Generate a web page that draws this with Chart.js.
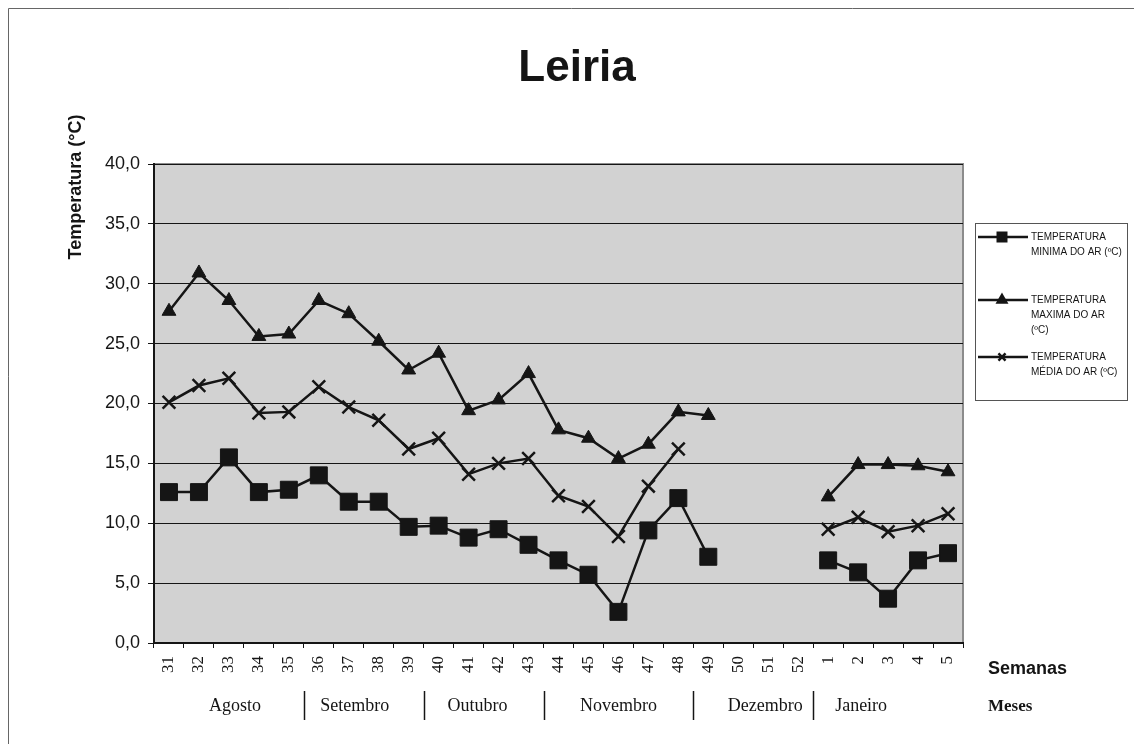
<!DOCTYPE html>
<html>
<head>
<meta charset="utf-8">
<title>Leiria</title>
<script src="https://cdn.jsdelivr.net/npm/chart.js@4.4.1/dist/chart.umd.min.js"></script>
<style>
  html, body { margin: 0; padding: 0; background: #fff; }
  #wrap { position: relative; width: 1134px; height: 744px; }
</style>
</head>
<body>
<div id="wrap"><canvas id="chart" width="1134" height="744"></canvas></div>
<script>
// week numbers (Semanas) on the x axis
const weeks = ['31', '32', '33', '34', '35', '36', '37', '38', '39', '40', '41', '42', '43',
  '44', '45', '46', '47', '48', '49', '50', '51', '52', '1', '2', '3', '4', '5'];

// values, null = no reading
const tempMin = [12.6, 12.6, 15.5, 12.6, 12.8, 14.0, 11.8, 11.8, 9.7, 9.8, 8.8, 9.5, 8.2,
  6.9, 5.7, 2.6, 9.4, 12.1, 7.2, null, null, null, 6.9, 5.9, 3.7, 6.9, 7.5];
const tempMax = [27.7, 30.9, 28.6, 25.6, 25.8, 28.6, 27.5, 25.2, 22.8, 24.2, 19.4, 20.3, 22.5,
  17.8, 17.1, 15.4, 16.6, 19.3, 19.0, null, null, null, 12.2, 14.9, 14.9, 14.8, 14.3];
const tempMean = [20.1, 21.5, 22.1, 19.2, 19.3, 21.4, 19.7, 18.6, 16.2, 17.1, 14.1, 15.0, 15.4,
  12.3, 11.4, 8.9, 13.1, 16.2, null, null, null, null, 9.5, 10.5, 9.3, 9.8, 10.8];

const seriesNames = ['TEMPERATURA MINIMA DO AR (ºC)', 'TEMPERATURA MAXIMA DO AR (ºC)', 'TEMPERATURA MÉDIA DO AR (ºC)'];
const legendLines = [
  ['TEMPERATURA', 'MINIMA DO AR (ºC)'],
  ['TEMPERATURA', 'MAXIMA DO AR', '(ºC)'],
  ['TEMPERATURA', 'MÉDIA DO AR (ºC)'],
];

// months (Meses) and the week index where each one starts
const months = ['Agosto', 'Setembro', 'Outubro', 'Novembro', 'Dezembro', 'Janeiro'];
const monthStart = [0, 5, 9, 13, 18, 22];

// y ticks
const yMin = 0;
const yMax = 40;
const yStep = 5;

// layout only
const monthLabelAt = [2.7, 6.7, 10.8, 15.5, 20.4, 23.6];
const ink = '#151515';

function fmt(v) {
  return v.toFixed(1).replace('.', ',');
}

const decor = {
  id: 'decor',
  beforeDraw(chart) {
    const { ctx, chartArea: a } = chart;
    ctx.save();
    ctx.fillStyle = '#fff';
    ctx.fillRect(0, 0, chart.width, chart.height);
    // outer frame (left and top only)
    ctx.strokeStyle = '#666';
    ctx.lineWidth = 1;
    ctx.beginPath();
    ctx.moveTo(8.5, chart.height);
    ctx.lineTo(8.5, 8.5);
    ctx.lineTo(chart.width, 8.5);
    ctx.stroke();
    // plot area
    ctx.fillStyle = '#d2d2d2';
    ctx.fillRect(a.left, a.top, a.right - a.left, a.bottom - a.top);
    ctx.strokeStyle = '#8c8c8c';
    ctx.lineWidth = 2;
    ctx.strokeRect(a.left, a.top, a.right - a.left, a.bottom - a.top);
    ctx.restore();
  },
  afterDraw(chart) {
    const { ctx, chartArea: a } = chart;
    const x = chart.scales.x;
    ctx.save();
    ctx.fillStyle = ink;

    // title
    ctx.font = 'bold 44px "Liberation Sans", Arial, sans-serif';
    ctx.textAlign = 'center';
    ctx.textBaseline = 'alphabetic';
    ctx.fillText('Leiria', 577, 81);

    // y axis title
    ctx.save();
    ctx.translate(76, 187);
    ctx.rotate(-Math.PI / 2);
    ctx.font = 'bold 18px "Liberation Sans", Arial, sans-serif';
    ctx.textBaseline = 'middle';
    ctx.fillText('Temperatura (°C)', 0, 0);
    ctx.restore();

    // month row
    ctx.strokeStyle = ink;
    ctx.lineWidth = 1.5;
    monthStart.slice(1).forEach(k => {
      const px = Math.round(x.getPixelForValue(k - 0.5)) + 0.5;
      ctx.beginPath();
      ctx.moveTo(px, 691);
      ctx.lineTo(px, 720);
      ctx.stroke();
    });
    ctx.font = '18px "Liberation Serif", "Times New Roman", serif';
    ctx.textBaseline = 'middle';
    months.forEach((m, i) => {
      ctx.fillText(m, x.getPixelForValue(monthLabelAt[i] - 0.5), 706);
    });

    // axis names at the right
    ctx.textAlign = 'left';
    ctx.font = 'bold 18px "Liberation Sans", Arial, sans-serif';
    ctx.fillText('Semanas', 988, 669);
    ctx.font = 'bold 17px "Liberation Serif", "Times New Roman", serif';
    ctx.fillText('Meses', 988, 707);

    // legend box
    ctx.strokeStyle = '#555';
    ctx.lineWidth = 1;
    ctx.strokeRect(975.5, 223.5, 152, 177);
    const rowY = [237, 300, 357];
    chart.data.datasets.forEach((ds, i) => {
      const y = rowY[i];
      ctx.strokeStyle = ink;
      ctx.lineWidth = 2.5;
      ctx.beginPath();
      ctx.moveTo(978, y);
      ctx.lineTo(1028, y);
      ctx.stroke();
      ctx.fillStyle = ink;
      Chart.helpers.drawPoint(ctx, {
        pointStyle: ds.pointStyle,
        radius: ds.pointStyle === 'rect' ? 6 : 5,
        rotation: 0,
        borderWidth: 2
      }, 1002, y);
      ctx.fillStyle = ink;
      ctx.font = '10px "Liberation Sans", Arial, sans-serif';
      ctx.textBaseline = 'middle';
      legendLines[i].forEach((t, j) => ctx.fillText(t, 1031, y + j * 15));
    });
    ctx.restore();
  }
};

const lineStyle = {
  borderColor: ink,
  backgroundColor: ink,
  pointBorderColor: ink,
  pointBackgroundColor: ink,
  borderWidth: 2.5,
  spanGaps: false,
  tension: 0,
};

new Chart(document.getElementById('chart'), {
  type: 'line',
  data: {
    labels: weeks,
    datasets: [
      { ...lineStyle, label: seriesNames[0], data: tempMin, pointStyle: 'rect', pointRadius: 12, pointBorderWidth: 1 },
      { ...lineStyle, label: seriesNames[1], data: tempMax, pointStyle: 'triangle', pointRadius: 8, pointBorderWidth: 1 },
      { ...lineStyle, label: seriesNames[2], data: tempMean, pointStyle: 'crossRot', pointRadius: 9, pointBorderWidth: 2.5 },
    ],
  },
  options: {
    responsive: false,
    animation: false,
    layout: { padding: { top: 164, left: 0, right: 171, bottom: 0 } },
    plugins: {
      legend: { display: false },
      title: { display: false },
      tooltip: { enabled: false },
    },
    scales: {
      x: {
        offset: true,
        afterFit: s => { s.height = 101; },
        grid: { offset: true, drawOnChartArea: false, drawTicks: true, tickLength: 5, color: ink, lineWidth: 1 },
        border: { display: true, color: ink, width: 2 },
        ticks: {
          autoSkip: false,
          minRotation: 90,
          maxRotation: 90,
          padding: 8,
          color: ink,
          font: { family: '"Liberation Serif", "Times New Roman", serif', size: 17 },
        },
      },
      y: {
        min: yMin,
        max: yMax,
        afterFit: s => { s.width = 154; },
        grid: { color: ink, lineWidth: 1, tickLength: 6 },
        border: { display: true, color: ink, width: 2 },
        ticks: {
          stepSize: yStep,
          padding: 8,
          color: ink,
          font: { family: '"Liberation Sans", Arial, sans-serif', size: 18 },
          callback: v => fmt(v),
        },
      },
    },
  },
  plugins: [decor],
});
</script>
</body>
</html>
